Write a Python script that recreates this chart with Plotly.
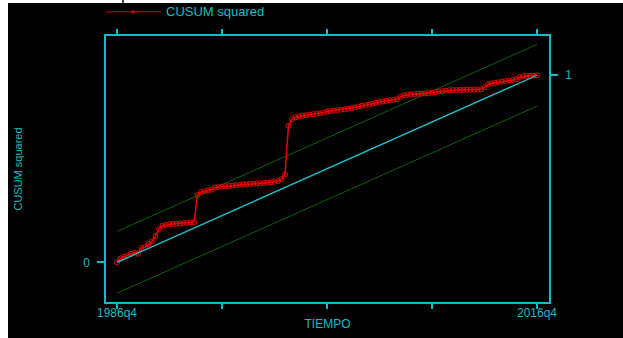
import plotly.graph_objects as go

# ---- data -------------------------------------------------------------
quarters = [f"{1986 + (q + 3) // 4}q{(q + 3) % 4 + 1}" for q in range(121)]  # 1986q4 .. 2016q4

cusum_sq = [
    0.000, 0.020, 0.030, 0.036, 0.045, 0.052, 0.046, 0.078, 0.080, 0.098,
    0.112, 0.140, 0.178, 0.196, 0.200, 0.203, 0.205, 0.207, 0.208, 0.210,
    0.211, 0.213, 0.215, 0.360, 0.375, 0.380, 0.384, 0.388, 0.400, 0.403,
    0.405, 0.407, 0.408, 0.410, 0.412, 0.414, 0.416, 0.417, 0.419, 0.420,
    0.422, 0.423, 0.424, 0.426, 0.428, 0.430, 0.434, 0.445, 0.470, 0.730,
    0.765, 0.775, 0.780, 0.783, 0.786, 0.790, 0.792, 0.794, 0.796, 0.800,
    0.806, 0.809, 0.811, 0.814, 0.816, 0.818, 0.821, 0.824, 0.828, 0.833,
    0.837, 0.840, 0.844, 0.848, 0.853, 0.857, 0.860, 0.863, 0.866, 0.869,
    0.872, 0.885, 0.893, 0.895, 0.897, 0.899, 0.901, 0.902, 0.903, 0.905,
    0.907, 0.910, 0.913, 0.916, 0.918, 0.920, 0.921, 0.921, 0.922, 0.922,
    0.923, 0.923, 0.924, 0.924, 0.925, 0.935, 0.952, 0.956, 0.960, 0.963,
    0.966, 0.969, 0.972, 0.975, 0.978, 0.990, 0.995, 0.996, 0.997, 0.998,
    1.000,
]

line_x = ["1986q4", "2016q4"]
expected_line = [0.0, 1.0]
upper_band = [0.165, 1.165]
lower_band = [-0.165, 0.835]

x_tickvals = ["1986q4", "1994q2", "2001q4", "2009q2", "2016q4"]
x_ticktext = ["1986q4", "", "", "", "2016q4"]

# ---- styling ----------------------------------------------------------
CYAN = "#12bcc6"
LINE_CYAN = "#1ec6d2"
GREEN = "#0f600f"
RED = "#ee0000"
FONT = "Liberation Sans, Arial, sans-serif"

W, H = 623, 338
ML, MR, MT, MB = 106, 74, 36, 36
PW, PH = W - ML - MR, H - MT - MB


def px_x(p):
    return (p - ML) / PW


def px_y(p):
    return (H - MB - p) / PH


fig = go.Figure()

fig.add_trace(go.Scatter(x=line_x, y=upper_band, mode="lines",
                         line=dict(color=GREEN, width=1), showlegend=False, hoverinfo="skip"))
fig.add_trace(go.Scatter(x=line_x, y=lower_band, mode="lines",
                         line=dict(color=GREEN, width=1), showlegend=False, hoverinfo="skip"))
fig.add_trace(go.Scatter(x=line_x, y=expected_line, mode="lines", yaxis="y2",
                         line=dict(color=LINE_CYAN, width=1.3), showlegend=False, hoverinfo="skip"))
fig.add_trace(go.Scatter(x=quarters, y=cusum_sq, mode="lines+markers",
                         name="CUSUM squared",
                         line=dict(color=RED, width=1.5),
                         marker=dict(symbol="circle-open", size=5, color=RED, line=dict(width=1)),
                         showlegend=False))

yrange = [-0.212, 1.210]
xrange = [-3.14, 123.43]

fig.update_layout(
    width=W, height=H,
    margin=dict(l=ML, r=MR, t=MT, b=MB, pad=0),
    paper_bgcolor="black", plot_bgcolor="black",
    font=dict(family=FONT, size=12, color=CYAN),
    showlegend=False,
    xaxis=dict(
        type="category", categoryorder="array", categoryarray=quarters,
        range=xrange, tickmode="array",
        tickvals=x_tickvals, ticktext=x_ticktext,
        showgrid=False, zeroline=False,
        showline=True, linecolor=CYAN, linewidth=1.5, mirror="ticks",
        ticks="outside", ticklen=5, tickwidth=1.5, tickcolor=CYAN,
        tickfont=dict(size=12, color=CYAN), tickangle=0, ticklabelstandoff=-6,
        title=dict(text="TIEMPO", font=dict(size=12, color=CYAN), standoff=0),
        automargin=False,
    ),
    yaxis=dict(
        range=yrange, tickmode="array", tickvals=[0], ticktext=["0"],
        showgrid=False, zeroline=False,
        showline=True, linecolor=CYAN, linewidth=1.5, mirror=False,
        ticks="outside", ticklen=7, tickwidth=1.5, tickcolor=CYAN,
        tickfont=dict(size=12, color=CYAN), ticklabelstandoff=5,
        title=dict(text="CUSUM squared", font=dict(size=11, color=CYAN), standoff=58),
        automargin=False,
    ),
    yaxis2=dict(
        range=yrange, overlaying="y", side="right", anchor="x",
        tickmode="array", tickvals=[1], ticktext=["1"],
        showgrid=False, zeroline=False,
        showline=True, linecolor=CYAN, linewidth=1.5,
        ticks="outside", ticklen=7, tickwidth=1.5, tickcolor=CYAN,
        tickfont=dict(size=12, color=CYAN), ticklabelstandoff=5,
        automargin=False,
    ),
    shapes=[
        # white strips framing the black canvas
        dict(type="rect", xref="paper", yref="paper", layer="above",
             x0=px_x(0), x1=px_x(W), y0=px_y(3), y1=px_y(0),
             fillcolor="white", line=dict(width=0)),
        dict(type="rect", xref="paper", yref="paper", layer="above",
             x0=px_x(0), x1=px_x(8), y0=px_y(H), y1=px_y(0),
             fillcolor="white", line=dict(width=0)),
        dict(type="line", xref="paper", yref="paper", layer="above",
             x0=px_x(123), x1=px_x(123), y0=px_y(0), y1=px_y(3),
             line=dict(color="black", width=1.5)),
        # legend key
        dict(type="line", xref="paper", yref="paper",
             x0=px_x(106), x1=px_x(161), y0=px_y(11.7), y1=px_y(11.7),
             line=dict(color="#960000", width=1.5)),
        dict(type="circle", xref="paper", yref="paper",
             x0=px_x(131.5), x1=px_x(134.5), y0=px_y(13.2), y1=px_y(10.2),
             fillcolor="#d00000", line=dict(color="#d00000", width=0.5)),
    ],
    annotations=[
        dict(text="CUSUM squared", xref="paper", yref="paper",
             x=px_x(164), y=px_y(11.7), xanchor="left", yanchor="middle",
             showarrow=False, font=dict(size=13, color=CYAN, family=FONT)),
    ],
)

fig.write_html("out.html")
